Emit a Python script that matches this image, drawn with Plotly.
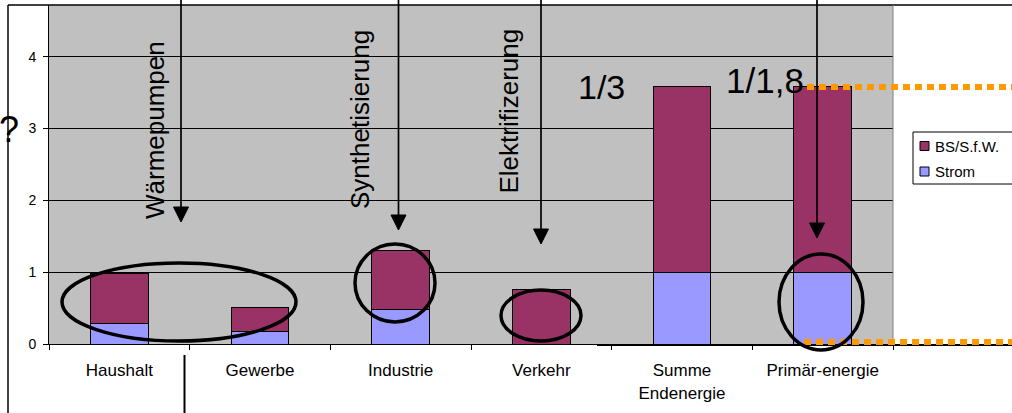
import plotly.graph_objects as go

# ---- data -----------------------------------------------------------------
categories = ["Haushalt", "Gewerbe", "Industrie", "Verkehr",
              "Summe<br>Endenergie", "Primär-energie"]
strom = [0.29, 0.18, 0.48, 0.0, 1.0, 1.0]
bs_sfw = [0.69, 0.33, 0.82, 0.76, 2.58, 2.58]
series_names = ["BS/S.f.W.", "Strom"]
y_ticks = [0, 1, 2, 3, 4]

# ---- styling / geometry ---------------------------------------------------
COL_BS = "#993366"
COL_STROM = "#9999FF"
COL_ORANGE = "#FF9900"
FONT = "Liberation Sans, Arial, sans-serif"

W, H = 1012, 413
ML, MR, MT, MB = 49, 119, 5, 69
PW, PH = W - ML - MR, H - MT - MB
YMAX = 4.72


def fx(px):
    """figure pixel x -> paper x"""
    return (px - ML) / PW


def fy(py):
    """figure pixel y (from top) -> paper y"""
    return (H - MB - py) / PH


fig = go.Figure()
fig.add_trace(go.Bar(x=categories, y=strom, name=series_names[1],
                     marker=dict(color=COL_STROM, line=dict(color="black", width=1)),
                     showlegend=False))
fig.add_trace(go.Bar(x=categories, y=bs_sfw, name=series_names[0],
                     marker=dict(color=COL_BS, line=dict(color="black", width=1)),
                     showlegend=False))

shapes = []
annotations = []

# chart frame (top and left edge) and plot-area right border
shapes.append(dict(type="line", xref="paper", yref="paper",
                   x0=fx(8), x1=fx(W + 2), y0=fy(5), y1=fy(5),
                   line=dict(color="black", width=1.5)))
shapes.append(dict(type="line", xref="paper", yref="paper",
                   x0=fx(8), x1=fx(8), y0=fy(5), y1=fy(H + 2),
                   line=dict(color="black", width=1.5)))
shapes.append(dict(type="line", xref="paper", yref="paper",
                   x0=1, x1=1, y0=0, y1=1,
                   line=dict(color="#808080", width=1)))
# divider below the category labels
shapes.append(dict(type="line", xref="paper", yref="paper",
                   x0=fx(184.5), x1=fx(184.5), y0=fy(355), y1=fy(H + 2),
                   line=dict(color="black", width=2)))
# heavier base line under the sum columns
shapes.append(dict(type="line", xref="paper", yref="paper",
                   x0=fx(597), x1=fx(W + 2), y0=fy(345), y1=fy(345),
                   line=dict(color="black", width=2)))

# dotted orange guide lines: total of primary energy and zero level
prim_total = strom[5] + bs_sfw[5]
shapes.append(dict(type="line", xref="paper", yref="paper",
                   x0=fx(807), x1=fx(W + 2), y0=prim_total / YMAX, y1=prim_total / YMAX,
                   line=dict(color=COL_ORANGE, width=6, dash="7px,5px")))
shapes.append(dict(type="line", xref="paper", yref="paper",
                   x0=fx(804), x1=fx(W + 2), y0=fy(342), y1=fy(342),
                   line=dict(color=COL_ORANGE, width=6, dash="7px,5px")))

# ellipses
for x0, x1, y0, y1 in [(62, 296, 263, 341), (355, 435, 244, 322),
                       (501, 581, 290, 341), (779, 863, 254, 350)]:
    shapes.append(dict(type="circle", xref="paper", yref="paper",
                       x0=fx(x0), x1=fx(x1), y0=fy(y1), y1=fy(y0),
                       line=dict(color="black", width=3.5)))

# arrows from the top edge
HEAD_W, HEAD_L = 15, 15
for ax, tip in [(181, 222), (398.5, 230), (541, 244), (817, 238)]:
    shapes.append(dict(type="line", xref="paper", yref="paper",
                       x0=fx(ax), x1=fx(ax), y0=fy(-2), y1=fy(tip - HEAD_L + 2),
                       line=dict(color="black", width=1.7)))
    path = "M {},{} L {},{} L {},{} Z".format(
        fx(ax - HEAD_W / 2), fy(tip - HEAD_L),
        fx(ax + HEAD_W / 2), fy(tip - HEAD_L),
        fx(ax), fy(tip))
    shapes.append(dict(type="path", xref="paper", yref="paper", path=path,
                       fillcolor="black", line=dict(color="black", width=1)))

# legend box
shapes.append(dict(type="rect", xref="paper", yref="paper",
                   x0=fx(913), x1=fx(W + 20), y0=fy(184), y1=fy(132),
                   fillcolor="white", line=dict(color="black", width=1)))
for name, col, cy in [(series_names[0], COL_BS, 146), (series_names[1], COL_STROM, 171.5)]:
    shapes.append(dict(type="rect", xref="paper", yref="paper",
                       x0=fx(920), x1=fx(929), y0=fy(cy + 4.5), y1=fy(cy - 4.5),
                       fillcolor=col, line=dict(color="black", width=1)))
    annotations.append(dict(xref="paper", yref="paper", x=fx(933), y=fy(cy),
                            xanchor="left", yanchor="middle", showarrow=False,
                            text=name, font=dict(family=FONT, size=15, color="black")))

# rotated measure labels
for txt, cx, cy in [("Wärmepumpen", 155, 130), ("Synthetisierung", 360, 120),
                    ("Elektrifizerung", 508, 111.5)]:
    annotations.append(dict(xref="paper", yref="paper", x=fx(cx), y=fy(cy),
                            xanchor="center", yanchor="middle", showarrow=False,
                            textangle=-90, text=txt,
                            font=dict(family=FONT, size=26, color="black")))

# ratio labels and question mark
annotations.append(dict(xref="paper", yref="paper", x=fx(601), y=fy(87),
                        xanchor="center", yanchor="middle", showarrow=False,
                        text="1/3", font=dict(family=FONT, size=34, color="black")))
annotations.append(dict(xref="paper", yref="paper", x=fx(765), y=fy(80),
                        xanchor="center", yanchor="middle", showarrow=False,
                        text="1/1,8", font=dict(family=FONT, size=35, color="black")))
annotations.append(dict(xref="paper", yref="paper", x=fx(21), y=fy(129),
                        xanchor="right", yanchor="middle", showarrow=False,
                        text="?", font=dict(family=FONT, size=36, color="black")))

fig.update_layout(
    width=W, height=H,
    margin=dict(l=ML, r=MR, t=MT, b=MB, pad=0, autoexpand=False),
    paper_bgcolor="white", plot_bgcolor="#C0C0C0",
    barmode="stack", bargap=0.59,
    showlegend=False,
    shapes=shapes, annotations=annotations,
    font=dict(family=FONT, color="black"),
)
fig.update_xaxes(type="category", tickson="boundaries", ticks="outside",
                 ticklen=5, tickcolor="black", showline=True, linecolor="black",
                 linewidth=1, showgrid=False, tickfont=dict(size=17, family=FONT),
                 ticklabelstandoff=11)
fig.update_yaxes(range=[0, YMAX], tickvals=y_ticks, ticks="outside", ticklen=5,
                 tickcolor="black", showline=True, linecolor="black", linewidth=1,
                 showgrid=True, gridcolor="black", gridwidth=1, zeroline=False,
                 tickfont=dict(size=14, family=FONT), ticklabelstandoff=4)

fig.write_html("out.html")
